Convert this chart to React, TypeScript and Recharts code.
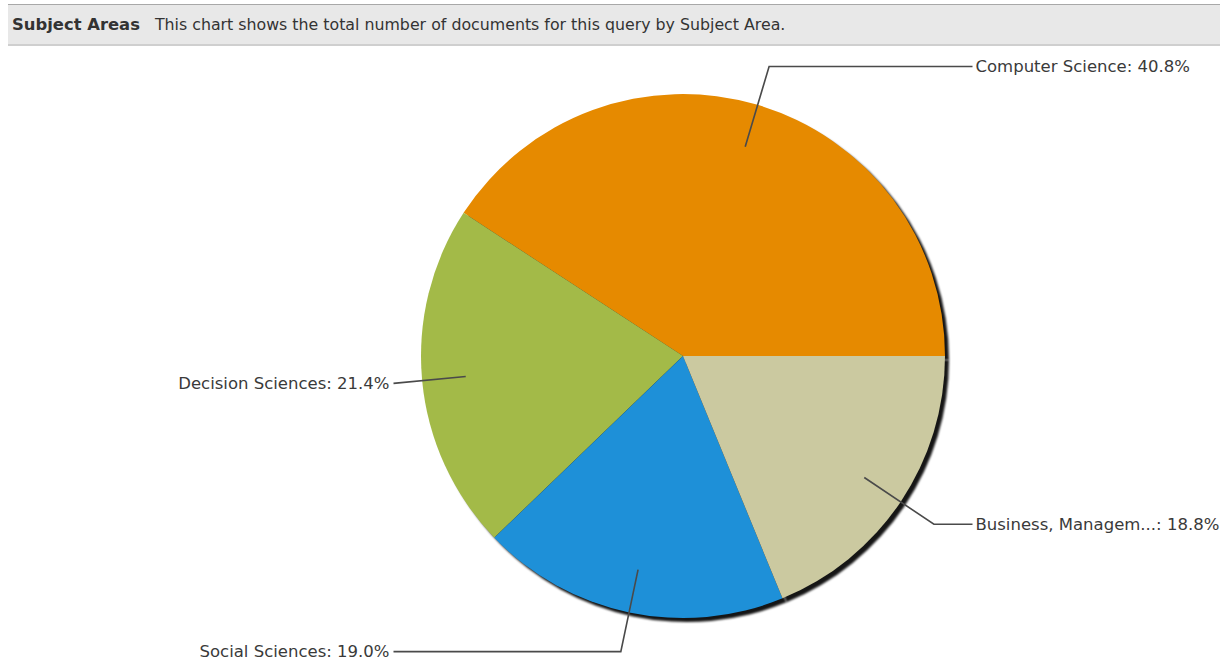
import React from 'react';
import { PieChart, Pie, Cell } from 'recharts';

const categories = ['Computer Science', 'Decision Sciences', 'Social Sciences', 'Business, Managem...'];
const shares = [40.8, 21.4, 19.0, 18.8];
const colors = ['#E68A00', '#A3BA48', '#1E90D8', '#CBC9A0'];

const title = 'Subject Areas';
const subtitle = 'This chart shows the total number of documents for this query by Subject Area.';

const data = categories.map((name, i) => ({ name, value: shares[i] }));

const RAD = Math.PI / 180;
const FONT = '"DejaVu Sans", Verdana, sans-serif';

function renderLabel(props: any) {
  const { cx, cy, midAngle, outerRadius, name, value } = props;
  const c = Math.cos(-midAngle * RAD);
  const s = Math.sin(-midAngle * RAD);
  const r0 = outerRadius * 0.833;
  const colDist = outerRadius * 1.105;
  let r1 = outerRadius * 1.153;
  if (Math.abs(c) > 1e-6) r1 = Math.min(r1, colDist / Math.abs(c));
  const x0 = cx + r0 * c;
  const y0 = cy + r0 * s;
  const x1 = cx + r1 * c;
  const y1 = cy + r1 * s;
  const right = c >= 0;
  const x2 = right ? cx + colDist : cx - colDist;
  const tx = right ? x2 + 3 : x2 - 4;
  return (
    <g>
      <polyline
        points={`${x0},${y0} ${x1},${y1} ${x2},${y1}`}
        fill="none"
        stroke="#4a4a4a"
        strokeWidth={1.6}
      />
      <text
        x={tx}
        y={y1}
        textAnchor={right ? 'start' : 'end'}
        dominantBaseline="central"
        fill="#3a3a3a"
        fontFamily={FONT}
        fontSize={16.5}
      >
        {`${name}: ${Number(value).toFixed(1)}%`}
      </text>
    </g>
  );
}

export default function App() {
  return (
    <div style={{ position: 'absolute', left: 0, top: 0, width: 1226, height: 664, background: '#fff', overflow: 'hidden' }}>
      <div
        style={{
          position: 'absolute',
          left: 8,
          top: 4,
          width: 1212,
          height: 39,
          background: '#e8e8e8',
          borderTop: '1px solid #a8a8a8',
          borderBottom: '2px solid #cfcfcf',
          fontFamily: FONT,
          color: '#333',
          display: 'flex',
          alignItems: 'center',
          whiteSpace: 'nowrap',
        }}
      >
        <span style={{ fontWeight: 'bold', fontSize: 16.4, marginLeft: 4 }}>{title}</span>
        <span style={{ fontSize: 15.8, marginLeft: 15 }}>{subtitle}</span>
      </div>
      <div style={{ position: 'absolute', left: 0, top: 0 }}>
        <PieChart width={1226} height={664} margin={{ top: 0, right: 0, bottom: 0, left: 0 }}>
          <Pie
            data={data}
            dataKey="value"
            nameKey="name"
            cx={687}
            cy={360}
            outerRadius={262}
            startAngle={0}
            endAngle={360}
            stroke="none"
            fill="#151515"
            isAnimationActive={false}
            label={false}
            labelLine={false}
            style={{ filter: 'blur(0.8px)' }}
          >
            {data.map((d, i) => (
              <Cell key={`s-${i}`} fill="#151515" />
            ))}
          </Pie>
          <Pie
            data={data}
            dataKey="value"
            nameKey="name"
            cx={683}
            cy={356}
            outerRadius={262}
            startAngle={0}
            endAngle={360}
            stroke="none"
            isAnimationActive={false}
            label={renderLabel}
            labelLine={false}
          >
            {data.map((d, i) => (
              <Cell key={`c-${i}`} fill={colors[i]} />
            ))}
          </Pie>
        </PieChart>
      </div>
    </div>
  );
}
